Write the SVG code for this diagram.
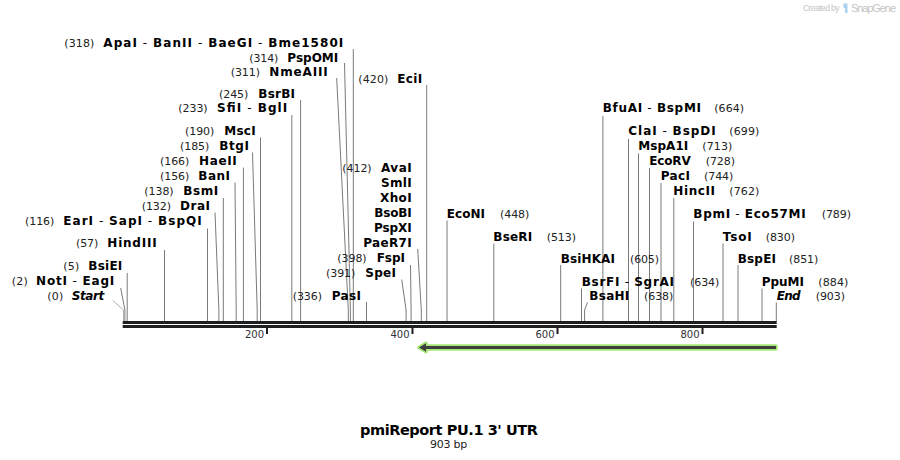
<svg xmlns="http://www.w3.org/2000/svg" width="900" height="460" viewBox="0 0 900 460">
<style>
.n{font-family:"DejaVu Sans","Verdana",sans-serif;font-size:11px;fill:#222}
.b{font-family:"DejaVu Sans","Verdana",sans-serif;font-size:12px;font-weight:bold;fill:#000}
.h{font-weight:normal}
.i{font-style:italic}
.ln{stroke:#7a7a7a;stroke-width:1;fill:none}
.lt{stroke:#b0b0b0;stroke-width:1;fill:none}
.tk{font-family:"DejaVu Sans","Verdana",sans-serif;font-size:10px;fill:#333;text-anchor:end}
.wm{font-family:"Liberation Sans","DejaVu Sans",sans-serif;fill:#c4c4c4}
</style>
<rect width="900" height="460" fill="#fff"/>

<g id="watermark">
<text class="wm" x="803" y="10.5" font-size="8.5" textLength="36.5">Created by</text>
<path d="M843.5,3.5 h4 v9.5 h-2.5 v-5 h-1.5 z" fill="#a9d2f3"/>
<text class="wm" x="851" y="11.5" font-size="11" textLength="45">SnapGene</text>
</g>

<g id="backbone">
<rect x="122.7" y="321" width="654" height="3" fill="#1e1e1e"/>
<rect x="122.7" y="325" width="654" height="3" fill="#1e1e1e"/>
<rect x="266" y="328" width="2" height="6" fill="#1e1e1e"/>
<rect x="411.5" y="328" width="2" height="6" fill="#1e1e1e"/>
<rect x="556.5" y="328" width="2" height="6" fill="#1e1e1e"/>
<rect x="701.5" y="328" width="2" height="6" fill="#1e1e1e"/>
<text class="tk" x="264" y="337.5">200</text>
<text class="tk" x="409.5" y="337.5">400</text>
<text class="tk" x="554.5" y="337.5">600</text>
<text class="tk" x="699.5" y="337.5">800</text>
</g>

<g id="feature">
<path d="M419,347.5 L426,343.3 L426,346 L776,346 L776,349 L426,349 L426,351.7 Z" fill="#3f3f3f" stroke="#a6e673" stroke-width="3.5" stroke-linejoin="round" paint-order="stroke"/>
</g>

<g id="connectors">
<path class="ln" d="M353.3,49 V321"/>
<path class="ln" d="M344.5,63 L350.4,310 V321"/>
<path class="ln" d="M336.7,78 L348.3,310 V321"/>
<path class="ln" d="M426.7,85 V321"/>
<path class="ln" d="M300.6,100 V321"/>
<path class="ln" d="M291.8,115 V321"/>
<path class="ln" d="M260.5,137.5 V321"/>
<path class="ln" d="M252.5,152.5 L257.2,310 V321"/>
<path class="ln" d="M243.4,167.5 V321"/>
<path class="ln" d="M235,182.5 L236.2,310 V321"/>
<path class="ln" d="M223.3,198 V321"/>
<path class="ln" d="M215,212.5 L218.9,310 V321"/>
<path class="ln" d="M207.5,228.5 V321"/>
<path class="ln" d="M164.5,250 V321"/>
<path class="ln" d="M127.2,273 V321"/>
<path class="ln" d="M120.7,288 L124.9,310 V321"/>
<path class="lt" d="M112.7,300.5 L123.5,310 V321"/>
<path class="ln" d="M417.7,249 L421.3,310 V321"/>
<path class="ln" d="M410.5,265 L411.1,310 V321"/>
<path class="ln" d="M401.7,279.5 L406.1,310 V321"/>
<path class="ln" d="M366.5,302 V321"/>
<path class="ln" d="M447,220.5 V321"/>
<path class="ln" d="M493.8,243.5 V321"/>
<path class="ln" d="M560.7,265 V321"/>
<path class="ln" d="M581.5,288.5 V321"/>
<path class="ln" d="M587.5,302.5 L584.6,310 V321"/>
<path class="ln" d="M602.9,116 V321"/>
<path class="ln" d="M628.5,139 V321"/>
<path class="ln" d="M638.5,153.5 V321"/>
<path class="ln" d="M649.5,168 V321"/>
<path class="ln" d="M661,183 V321"/>
<path class="ln" d="M673.8,198 V321"/>
<path class="ln" d="M693.5,221.5 V321"/>
<path class="ln" d="M723,243.5 V321"/>
<path class="ln" d="M738,265 V321"/>
<path class="ln" d="M762,288.5 V321"/>
<path class="ln" d="M776.3,302.5 V321"/>
</g>

<g id="ApaI"><text class="n" x="64.3" y="47" textLength="30">(318)</text><text class="b" x="103.3" y="47" textLength="240">ApaI<tspan class="h"> - </tspan>BanII<tspan class="h"> - </tspan>BaeGI<tspan class="h"> - </tspan>Bme1580I</text></g>
<g id="PspOMI"><text class="n" x="249.3" y="61.5" textLength="29">(314)</text><text class="b" x="287.3" y="61.5" textLength="51">PspOMI</text></g>
<g id="NmeAIII"><text class="n" x="230.7" y="76" textLength="29.3">(311)</text><text class="b" x="269.3" y="76" textLength="58.4">NmeAIII</text></g>
<g id="EciI"><text class="n" x="358.3" y="82.5" textLength="30">(420)</text><text class="b" x="397.3" y="82.5" textLength="25">EciI</text></g>
<g id="BsrBI"><text class="n" x="219" y="97.5" textLength="29.3">(245)</text><text class="b" x="258.3" y="97.5" textLength="36.7">BsrBI</text></g>
<g id="SfiI"><text class="n" x="178.3" y="112" textLength="29.3">(233)</text><text class="b" x="217" y="112" textLength="70.3">SfiI<tspan class="h"> - </tspan>BglI</text></g>
<g id="MscI"><text class="n" x="185" y="135" textLength="29.3">(190)</text><text class="b" x="224.3" y="135" textLength="31.4">MscI</text></g>
<g id="BtgI"><text class="n" x="180" y="150" textLength="29.3">(185)</text><text class="b" x="219.3" y="150" textLength="29.7">BtgI</text></g>
<g id="HaeII"><text class="n" x="160" y="165" textLength="29.3">(166)</text><text class="b" x="199" y="165" textLength="37.7">HaeII</text></g>
<g id="BanI"><text class="n" x="160" y="180" textLength="29.3">(156)</text><text class="b" x="198.3" y="180" textLength="31.7">BanI</text></g>
<g id="BsmI"><text class="n" x="144.3" y="195" textLength="29.3">(138)</text><text class="b" x="183.3" y="195" textLength="35">BsmI</text></g>
<g id="DraI"><text class="n" x="141.7" y="210" textLength="29.3">(132)</text><text class="b" x="180" y="210" textLength="30">DraI</text></g>
<g id="EarI"><text class="n" x="25" y="225" textLength="29.3">(116)</text><text class="b" x="63.3" y="225" textLength="138.4">EarI<tspan class="h"> - </tspan>SapI<tspan class="h"> - </tspan>BspQI</text></g>
<g id="HindIII"><text class="n" x="76" y="247" textLength="22.3">(57)</text><text class="b" x="107.3" y="247" textLength="49.4">HindIII</text></g>
<g id="BsiEI"><text class="n" x="63.3" y="270" textLength="16">(5)</text><text class="b" x="88.3" y="270" textLength="34">BsiEI</text></g>
<g id="NotI"><text class="n" x="11.7" y="285" textLength="16">(2)</text><text class="b" x="36" y="285" textLength="78.3">NotI<tspan class="h"> - </tspan>EagI</text></g>
<g id="Start"><text class="n" x="47.3" y="300" textLength="16">(0)</text><text class="b i" x="71.7" y="300" textLength="32.6">Start</text></g>

<g id="AvaI"><text class="n" x="342.3" y="172" textLength="29.3">(412)</text><text class="b" x="381" y="172" textLength="30.7">AvaI</text></g>
<g id="SmlI"><text class="b" x="381" y="187" textLength="30.7">SmlI</text></g>
<g id="XhoI"><text class="b" x="380" y="202" textLength="31.7">XhoI</text></g>
<g id="BsoBI"><text class="b" x="374.3" y="217" textLength="37.4">BsoBI</text></g>
<g id="PspXI"><text class="b" x="374" y="232" textLength="37.7">PspXI</text></g>
<g id="PaeR7I"><text class="b" x="363.3" y="247" textLength="48.4">PaeR7I</text></g>
<g id="FspI"><text class="n" x="337.3" y="262.3" textLength="29.3">(398)</text><text class="b" x="376.7" y="262.3" textLength="28.3">FspI</text></g>
<g id="SpeI"><text class="n" x="326" y="277" textLength="29.3">(391)</text><text class="b" x="365.3" y="277" textLength="30.7">SpeI</text></g>
<g id="PasI"><text class="n" x="292.7" y="300" textLength="29.3">(336)</text><text class="b" x="331.7" y="300" textLength="29.3">PasI</text></g>

<g id="EcoNI"><text class="b" x="446.7" y="218" textLength="38.3">EcoNI</text><text class="n" x="500" y="218" textLength="29.3">(448)</text></g>
<g id="BseRI"><text class="b" x="493.3" y="241" textLength="39">BseRI</text><text class="n" x="546.7" y="241" textLength="29.3">(513)</text></g>
<g id="BsiHKAI"><text class="b" x="560.7" y="262.5" textLength="54.3">BsiHKAI</text><text class="n" x="630" y="262.5" textLength="29">(605)</text></g>
<g id="BsrFI"><text class="b" x="581.7" y="285.5" textLength="92.3">BsrFI<tspan class="h"> - </tspan>SgrAI</text><text class="n" x="690" y="285.5" textLength="29.3">(634)</text></g>
<g id="BsaHI"><text class="b" x="589.3" y="300" textLength="40">BsaHI</text><text class="n" x="644" y="300" textLength="29.3">(638)</text></g>
<g id="BfuAI"><text class="b" x="602.7" y="112.3" textLength="98.3">BfuAI<tspan class="h"> - </tspan>BspMI</text><text class="n" x="714.3" y="112.3" textLength="29.7">(664)</text></g>
<g id="ClaI"><text class="b" x="628.3" y="135.3" textLength="87.4">ClaI<tspan class="h"> - </tspan>BspDI</text><text class="n" x="729.3" y="135.3" textLength="30">(699)</text></g>
<g id="MspA1I"><text class="b" x="638.3" y="150.3" textLength="50">MspA1I</text><text class="n" x="702.3" y="150.3" textLength="30">(713)</text></g>
<g id="EcoRV"><text class="b" x="649.3" y="165.3" textLength="41.4">EcoRV</text><text class="n" x="705.7" y="165.3" textLength="29.3">(728)</text></g>
<g id="PacI"><text class="b" x="660.7" y="180.3" textLength="29.3">PacI</text><text class="n" x="704" y="180.3" textLength="29.3">(744)</text></g>
<g id="HincII"><text class="b" x="673.3" y="195.3" textLength="41.7">HincII</text><text class="n" x="729.3" y="195.3" textLength="30">(762)</text></g>
<g id="BpmI"><text class="b" x="693.3" y="218" textLength="112.4">BpmI<tspan class="h"> - </tspan>Eco57MI</text><text class="n" x="821.7" y="218" textLength="29.3">(789)</text></g>
<g id="TsoI"><text class="b" x="722.7" y="240.5" textLength="29">TsoI</text><text class="n" x="765.7" y="240.5" textLength="29.3">(830)</text></g>
<g id="BspEI"><text class="b" x="737.7" y="262.5" textLength="38.3">BspEI</text><text class="n" x="789" y="262.5" textLength="29.3">(851)</text></g>
<g id="PpuMI"><text class="b" x="761.7" y="285.5" textLength="42.3">PpuMI</text><text class="n" x="818.3" y="285.5" textLength="30">(884)</text></g>
<g id="End"><text class="b i" x="776.7" y="300" textLength="24">End</text><text class="n" x="815.7" y="300" textLength="29.3">(903)</text></g>

<g id="title">
<text x="449" y="435" text-anchor="middle" font-family="DejaVu Sans, Verdana, sans-serif" font-size="14.5" font-weight="bold" fill="#000" textLength="178">pmiReport PU.1 3' UTR</text>
<text x="448.7" y="447.5" text-anchor="middle" font-family="DejaVu Sans, Verdana, sans-serif" font-size="11" fill="#222" textLength="37.3">903 bp</text>
</g>
</svg>
